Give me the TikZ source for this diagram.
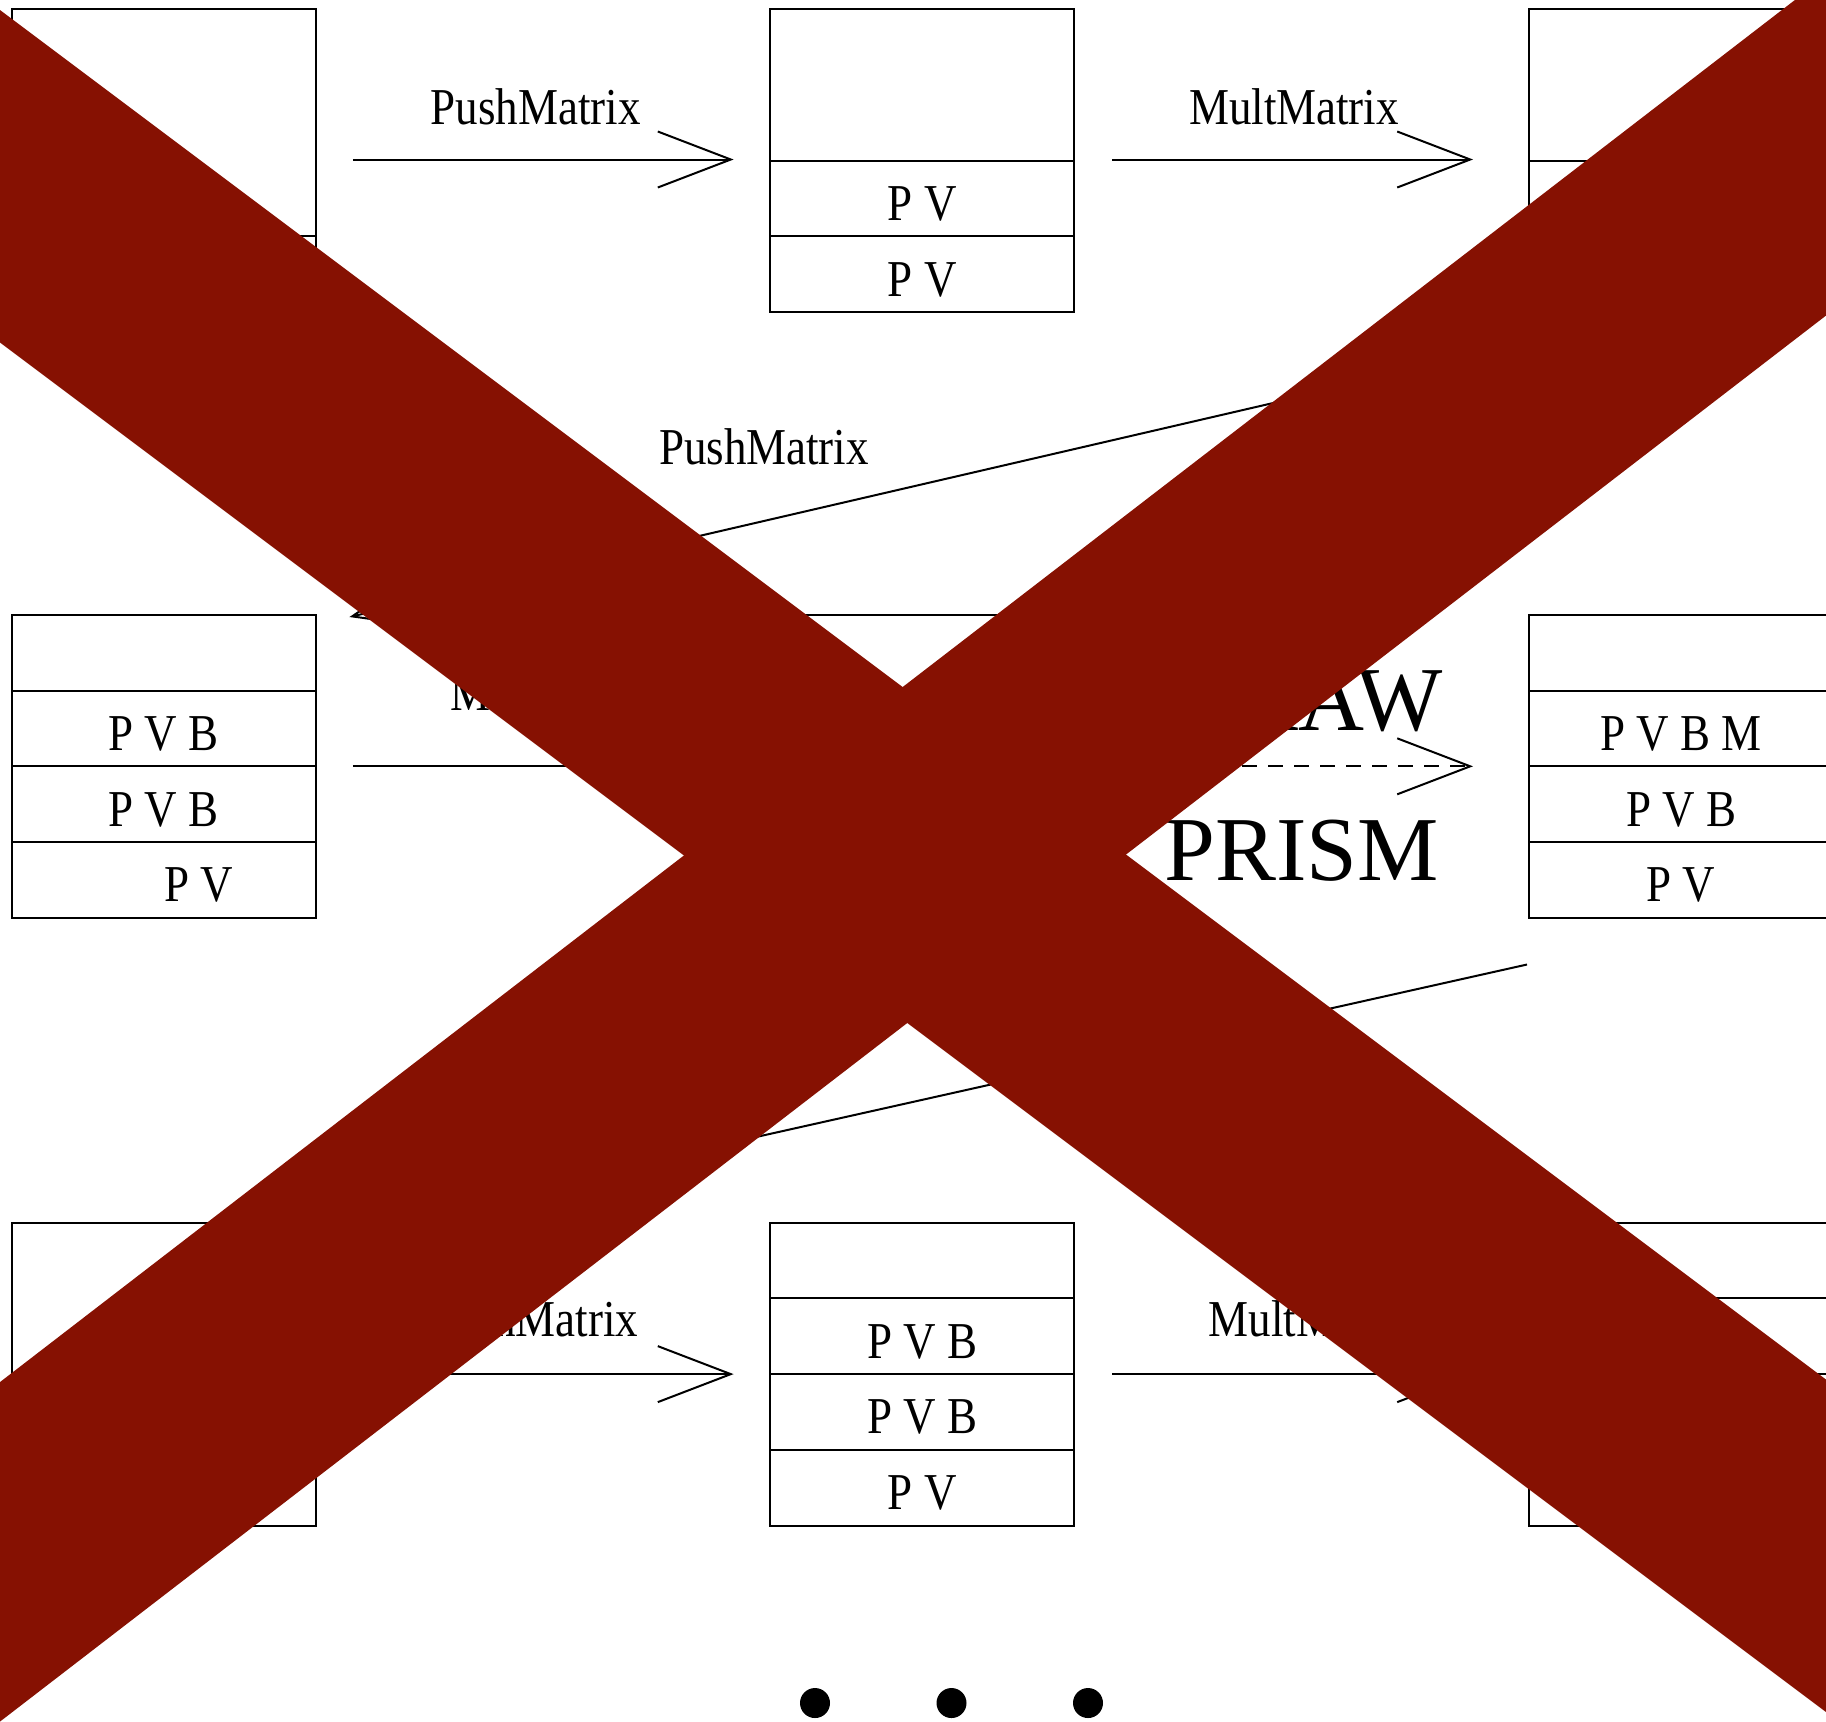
\documentclass[tikz,border=0pt]{standalone}
\usepackage{fontspec}
\setmainfont{Liberation Serif}
\usetikzlibrary{arrows.meta,positioning}
\definecolor{crossred}{RGB}{134,17,2}
\newcommand{\tall}[1]{\scalebox{1}[1.15]{#1}}

\begin{document}
\begin{tikzpicture}[
  x=0.1mm,
  y=-0.1mm,
  line width=0.2mm,
  >={Straight Barb[length=7.3mm,width=5.6mm]},
  cell/.style={
    draw,
    minimum width=30.4mm,
    minimum height=7.57mm,
    inner sep=0pt,
    outer sep=0pt,
    text height=12.4pt,
    text depth=0pt,
    font=\fontsize{12.8}{14}\selectfont
  },
  opname/.style={inner sep=0pt,font=\fontsize{12.8}{14}\selectfont},
  bigname/.style={inner sep=0pt,font=\fontsize{26}{30}\selectfont},
  op/.style={->},
  drawop/.style={->,dash pattern=on 1.5mm off 1.1mm},
  cross/.style={crossred,line width=#1}
]
\useasboundingbox (0,0) rectangle (1826,1721);
\clip (0,0) rectangle (1826,1721);

% Top row of stacks
\node[cell,minimum height=22.71mm,anchor=north] (tlTop) at (163.6,9.3) {};
\node[cell,below=0pt of tlTop] (tlA) {};

\node[cell,minimum height=15.14mm,anchor=north] (tmTop) at (922.3,9.3) {};
\node[cell,below=0pt of tmTop] (tmA) {\tall{P V}};
\node[cell,below=0pt of tmA] (tmB) {\tall{P V}};

\node[cell,minimum height=15.14mm,anchor=north] (trTop) at (1681,9.3) {};
\node[cell,below=0pt of trTop] (trA) {};
\node[cell,below=0pt of trA] (trB) {};

% Middle row of stacks
\node[cell,anchor=north] (mlTop) at (163.6,615) {};
\node[cell,below=0pt of mlTop] (mlA) {\tall{P V B}};
\node[cell,below=0pt of mlA] (mlB) {\tall{P V B}};
\node[cell,below=0pt of mlB] (mlC) {\hspace*{7mm}\tall{P V}};

\node[cell,anchor=north] (mmTop) at (922.3,615) {};
\node[cell,below=0pt of mmTop] (mmA) {};
\node[cell,below=0pt of mmA] (mmB) {};
\node[cell,below=0pt of mmB] (mmC) {};

\node[cell,anchor=north] (mrTop) at (1681,615) {};
\node[cell,below=0pt of mrTop] (mrA) {\tall{P V B M}};
\node[cell,below=0pt of mrA] (mrB) {\tall{P V B}};
\node[cell,below=0pt of mrB] (mrC) {\tall{P V}};

% Bottom row of stacks
\node[cell,minimum height=15.14mm,anchor=north] (blTop) at (163.6,1222.7) {};
\node[cell,below=0pt of blTop] (blA) {};
\node[cell,below=0pt of blA] (blB) {};

\node[cell,anchor=north] (bmTop) at (922.3,1222.7) {};
\node[cell,below=0pt of bmTop] (bmA) {\tall{P V B}};
\node[cell,below=0pt of bmA] (bmB) {\tall{P V B}};
\node[cell,below=0pt of bmB] (bmC) {\tall{P V}};

\node[cell,anchor=north] (brTop) at (1681,1222.7) {};
\node[cell,below=0pt of brTop] (brA) {};
\node[cell,below=0pt of brA] (brB) {};
\node[cell,below=0pt of brB] (brC) {};

% Arrow end points
\coordinate (tOneS) at (352.8,159.5);
\coordinate (tOneE) at (733.6,159.5);
\coordinate (tTwoS) at (1112,159.5);
\coordinate (tTwoE) at (1473,159.5);
\coordinate (mOneS) at (352.8,766.3);
\coordinate (mOneE) at (733.6,766.3);
\coordinate (mTwoS) at (1112,766.3);
\coordinate (mTwoE) at (1473,766.3);
\coordinate (bOneS) at (352.8,1374.1);
\coordinate (bOneE) at (733.6,1374.1);
\coordinate (bTwoS) at (1112,1374.1);
\coordinate (bTwoE) at (1473,1374.1);
\coordinate (dOneS) at (1527,344.2);
\coordinate (dOneE) at (349.4,617);
\coordinate (dTwoS) at (1527,964.5);
\coordinate (dTwoE) at (349.4,1228);

% Operations
\draw[op] (tOneS)--(tOneE);
\draw[op] (tTwoS)--(tTwoE);
\draw[op] (dOneS)--(dOneE);
\draw[op] (mOneS)--(mOneE);
\draw[drawop] (mTwoS)--(mTwoE);
\draw[op] (dTwoS)--(dTwoE);
\draw[op] (bOneS)--(bOneE);
\draw[op] (bTwoS)--(bTwoE);

% Labels
\node[opname,anchor=base west] (lPushT) at (429.7,124.5) {\tall{PushMatrix}};
\node[opname,anchor=base west] (lMultT) at (1188,124.5) {\tall{MultMatrix}};
\node[opname,anchor=base west] (lPushD) at (658,464) {\tall{PushMatrix}};
\node[opname,anchor=base west] (lMultM) at (449,710) {\tall{MultMatrix}};
\node[bigname,anchor=base east] (lDraw) at (1444,730) {DRAW};
\node[bigname,anchor=base east] (lPrism) at (1440,880) {PRISM};
\node[opname,anchor=base east] (lPushB) at (639.3,1336) {\tall{PushMatrix}};
\node[opname,anchor=base west] (lMultB) at (1207.6,1336) {\tall{MultMatrix}};

% More to come
\coordinate (dotA) at (815,1703);
\coordinate (dotB) at (951.5,1703);
\coordinate (dotC) at (1088,1703);
\fill (dotA) circle (1.5mm);
\fill (dotB) circle (1.5mm);
\fill (dotC) circle (1.5mm);

% Crossed out
\coordinate (xaOne) at (-300,-48.7);
\coordinate (xaTwo) at (2126,1770.8);
\coordinate (xbOne) at (-300,1782.8);
\coordinate (xbTwo) at (2126,-85.2);
\draw[cross=26.6mm] (xaOne)--(xaTwo);
\draw[cross=26.9mm] (xbOne)--(xbTwo);
\end{tikzpicture}
\end{document}
